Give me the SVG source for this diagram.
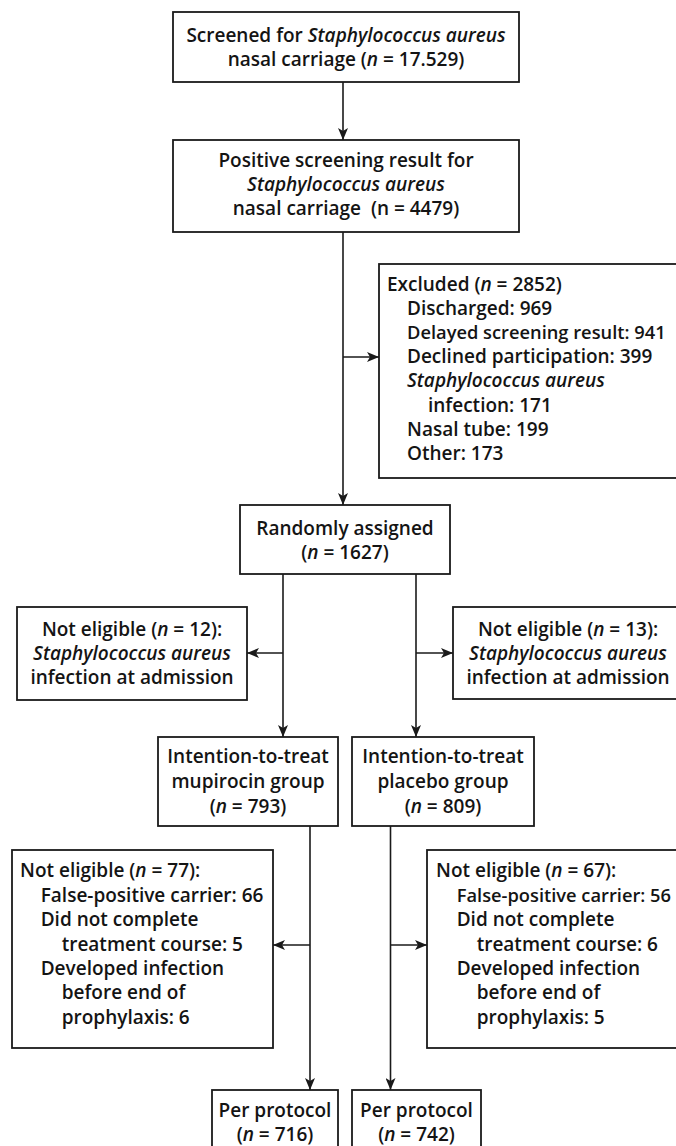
<svg xmlns="http://www.w3.org/2000/svg" width="676" height="1146" viewBox="0 0 676 1146">
<defs>
<style>
.box{fill:#fff;stroke:#1a1a1a;stroke-width:1.8}
.ln{fill:none;stroke:#1a1a1a;stroke-width:1.6;marker-end:url(#ah)}
.ln2{fill:none;stroke:#1a1a1a;stroke-width:1.6}
text{font-family:"Open Sans","Liberation Sans",sans-serif;font-weight:600;font-size:19px;fill:#141414;white-space:pre}
.c{text-anchor:middle}
.i{font-style:italic}
.s{font-size:18.3px}
</style>
<marker id="ah" viewBox="0 0 12 10" refX="12" refY="5" markerWidth="12" markerHeight="10" orient="auto" markerUnits="userSpaceOnUse">
<path d="M0,0 L12,5 L0,10 L3,5 z" fill="#1a1a1a"/>
</marker>
</defs>
<rect width="676" height="1146" fill="#fff"/>
<g id="connectors">
<path class="ln" d="M343,82 V140"/>
<path class="ln2" d="M343,232 V357"/>
<path class="ln" d="M343,357 V505"/>
<path class="ln" d="M343,357 H379"/>
<path class="ln2" d="M283,574 V653"/>
<path class="ln" d="M283,653 V737"/>
<path class="ln" d="M283,653 H247"/>
<path class="ln2" d="M416,574 V653"/>
<path class="ln" d="M416,653 V737"/>
<path class="ln" d="M416,653 H453"/>
<path class="ln2" d="M310,826 V945"/>
<path class="ln" d="M310,945 V1090"/>
<path class="ln" d="M310,945 H273"/>
<path class="ln2" d="M390.5,826 V945"/>
<path class="ln" d="M390.5,945 V1090"/>
<path class="ln" d="M390.5,945 H427"/>
</g>
<g id="screened">
<rect class="box" x="173" y="12" width="346" height="70"/>
<text class="c" x="346" y="42">Screened for <tspan class="i">Staphylococcus aureus</tspan></text>
<text class="c" x="346" y="66">nasal carriage (<tspan class="i">n</tspan> = 17.529)</text>
</g>
<g id="positive">
<rect class="box" x="173" y="140" width="346" height="92"/>
<text class="c" x="346" y="166.7">Positive screening result for</text>
<text class="c i" x="346" y="190.7">Staphylococcus aureus</text>
<text class="c" x="346" y="215">nasal carriage  (n = 4479)</text>
</g>
<g id="excluded">
<rect class="box" x="379" y="264" width="302" height="214"/>
<text x="387" y="290.5">Excluded (<tspan class="i">n</tspan> = 2852)</text>
<text x="407" y="314.7">Discharged: 969</text>
<text class="s" x="407" y="338.9">Delayed screening result: 941</text>
<text x="407" y="363.1">Declined participation: 399</text>
<text class="i" x="407" y="387.3">Staphylococcus aureus</text>
<text x="428" y="411.5">infection: 171</text>
<text x="407" y="435.7">Nasal tube: 199</text>
<text x="407" y="459.9">Other: 173</text>
</g>
<g id="randomized">
<rect class="box" x="240" y="505" width="210" height="69"/>
<text class="c" x="345" y="535">Randomly assigned</text>
<text class="c" x="345" y="559">(<tspan class="i">n</tspan> = 1627)</text>
</g>
<g id="notelig-left">
<rect class="box" x="17" y="607" width="230" height="93"/>
<text class="c" x="132" y="635.7">Not eligible (<tspan class="i">n</tspan> = 12):</text>
<text class="c i" x="132" y="660">Staphylococcus aureus</text>
<text class="c" x="132" y="684.3">infection at admission</text>
</g>
<g id="notelig-right">
<rect class="box" x="453" y="607" width="230" height="92"/>
<text class="c" x="568" y="635.7">Not eligible (<tspan class="i">n</tspan> = 13):</text>
<text class="c i" x="568" y="660">Staphylococcus aureus</text>
<text class="c" x="568" y="684.3">infection at admission</text>
</g>
<g id="itt-mupirocin">
<rect class="box" x="158" y="737" width="180" height="89"/>
<text class="c" x="248" y="763">Intention-to-treat</text>
<text class="c" x="248" y="788">mupirocin group</text>
<text class="c" x="248" y="812.5">(<tspan class="i">n</tspan> = 793)</text>
</g>
<g id="itt-placebo">
<rect class="box" x="352" y="737" width="182" height="89"/>
<text class="c" x="443" y="763">Intention-to-treat</text>
<text class="c" x="443" y="788">placebo group</text>
<text class="c" x="443" y="812.5">(<tspan class="i">n</tspan> = 809)</text>
</g>
<g id="notelig2-left">
<rect class="box" x="12" y="850" width="261" height="198"/>
<text x="20" y="877.3">Not eligible (<tspan class="i">n</tspan> = 77):</text>
<text x="40.7" y="901.7">False-positive carrier: 66</text>
<text x="40.7" y="926.1">Did not complete</text>
<text x="61.7" y="950.5">treatment course: 5</text>
<text x="40.7" y="974.9">Developed infection</text>
<text x="61.7" y="999.3">before end of</text>
<text x="61.7" y="1023.7">prophylaxis: 6</text>
</g>
<g id="notelig2-right">
<rect class="box" x="427" y="850" width="256" height="198"/>
<text x="436" y="877.3">Not eligible (<tspan class="i">n</tspan> = 67):</text>
<text class="s" x="456.7" y="901.7">False-positive carrier: 56</text>
<text x="456.7" y="926.1">Did not complete</text>
<text x="476.7" y="950.5">treatment course: 6</text>
<text x="456.7" y="974.9">Developed infection</text>
<text x="476.7" y="999.3">before end of</text>
<text x="476.7" y="1023.7">prophylaxis: 5</text>
</g>
<g id="pp-mupirocin">
<rect class="box" x="212" y="1090" width="126" height="70"/>
<text class="c" x="275" y="1116.7">Per protocol</text>
<text class="c" x="275" y="1140.7">(<tspan class="i">n</tspan> = 716)</text>
</g>
<g id="pp-placebo">
<rect class="box" x="352" y="1090" width="129" height="70"/>
<text class="c" x="416.5" y="1116.7">Per protocol</text>
<text class="c" x="416.5" y="1140.7">(<tspan class="i">n</tspan> = 742)</text>
</g>
</svg>
